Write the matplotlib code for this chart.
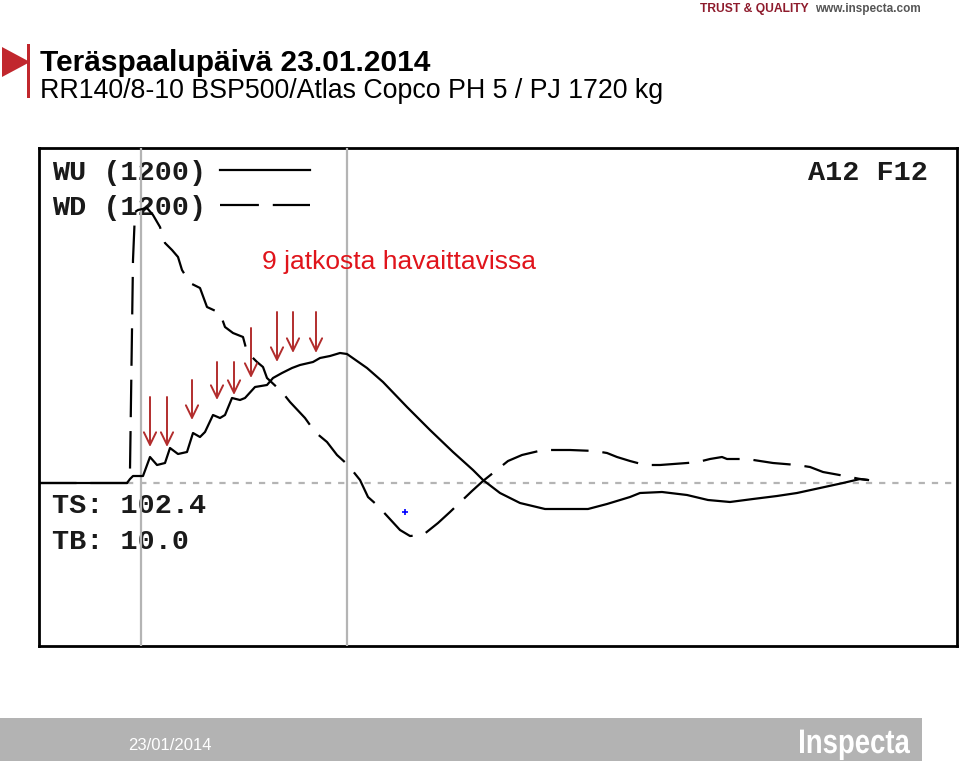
import matplotlib
matplotlib.use("Agg")
import matplotlib.pyplot as plt
from matplotlib.patches import Polygon, Rectangle, PathPatch
from matplotlib.textpath import TextPath
from matplotlib.font_manager import FontProperties
from matplotlib.transforms import Affine2D

plt.rcParams['lines.scale_dashes'] = False

# WU (solid) trace: sample index, amplitude
wu_t = [0, 88, 91, 94, 104, 111, 118, 126, 131, 139, 148, 154, 161, 166, 174, 181,
        186, 193, 201, 206, 216, 228, 234, 243, 253, 261, 274, 281, 291, 301, 308,
        328, 344, 368, 391, 414, 434, 444, 461, 481, 506, 549, 568, 591, 601, 623,
        648, 669, 691, 714, 738, 758, 781, 804, 821, 829]
wu_a = [0, 0, 4, 7, 7, 26, 18, 20, 35, 29, 31, 50, 46, 51, 68, 65,
        68, 85, 83, 85, 96, 98, 105, 110, 115, 118, 121, 125, 127, 130, 129,
        115, 101, 76, 53, 31, 13, 3, -10, -20, -26, -26, -21, -14, -10, -9,
        -12, -17, -19, -16, -13, -10, -5, 0, 4, 3]

# WD (dashed) trace
wd_t = [0, 88, 91, 94, 96, 99, 108, 114, 121, 126, 133, 139, 143, 151, 161, 168,
        181, 186, 194, 204, 208, 218, 224, 228, 243, 251, 266, 276, 288, 298, 309,
        321, 329, 338, 361, 371, 384, 399, 411, 433, 444, 469, 483, 504, 531, 556,
        568, 578, 591, 606, 621, 648, 659, 671, 683, 688, 708, 721, 734, 758, 771,
        784, 806, 821, 829]
wd_a = [0, 0, 13, 223, 271, 273, 275, 268, 256, 240, 233, 226, 213, 200, 195, 176,
        170, 156, 150, 146, 131, 121, 116, 105, 91, 81, 65, 51, 41, 28, 18,
        3, -14, -22, -47, -53, -52, -40, -29, -8, 2, 22, 28, 33, 33, 32,
        30, 26, 22, 18, 18, 20, 21, 24, 26, 24, 24, 22, 20, 18, 16,
        11, 7, 4, 3]

# the 9 marked splices
arrow_t = [111, 128, 153, 178, 195, 212, 238, 254, 277]
arrow_top = [86, 86, 103, 121, 121, 155, 171, 171, 171]
arrow_tip = [36, 36, 63, 83, 88, 105, 121, 130, 130]

marker_t, marker_a = 366, -29
cursor_t = [102, 308]

W, H = 959, 764
fig = plt.figure(figsize=(W / 100, H / 100), dpi=100)

# overlay for the slide decorations, in pixel units
bg = fig.add_axes([0, 0, 1, 1])
bg.set_xlim(0, W)
bg.set_ylim(H, 0)
bg.axis('off')

red = '#c1272d'
bg.add_patch(Polygon([[2, 47], [2, 77], [30, 62]], closed=True, color=red, lw=0))
bg.add_patch(Rectangle((27, 44), 2.5, 54, color=red, lw=0))
bg.text(40, 71, 'Teräspaalupäivä 23.01.2014', fontsize=21.5, fontweight='bold',
        family='Liberation Sans', va='baseline')
bg.text(40, 98, 'RR140/8-10 BSP500/Atlas Copco PH 5 / PJ 1720 kg', fontsize=19.3,
        family='Liberation Sans', va='baseline')
bg.text(700, 12, 'TRUST & QUALITY', fontsize=8.7, fontweight='bold', color='#8e1b2c',
        family='Liberation Sans', va='baseline')
bg.text(815, 12, 'www.inspecta.com', fontsize=8.5, fontweight='bold', color='#555555',
        family='Liberation Sans', va='baseline')

bg.add_patch(Rectangle((0, 718), 922, 43, color='#b3b3b3', lw=0))
bg.text(128, 750, '23/01/2014', fontsize=12, color='white',
        family='Liberation Sans', va='baseline')

# condensed logo text
tp = TextPath((0, 0), 'Inspecta', size=34,
              prop=FontProperties(family='Liberation Sans', weight='bold'))
ext = tp.get_extents()
logo_tr = Affine2D().translate(-ext.x0, 0).scale(110 / ext.width, -1).translate(800, 753)
bg.add_patch(PathPatch(tp, transform=logo_tr + bg.transData, color='white', lw=0))

# the PDA chart
ax = fig.add_axes([39 / W, (H - 646) / H, (957 - 39) / W, (646 - 148) / H])
ax.set_xlim(0, 918)
ax.set_ylim(-163, 335)
ax.set_xticks([])
ax.set_yticks([])
for s in ax.spines.values():
    s.set_linewidth(2)
    s.set_color('black')

for c in cursor_t:
    ax.axvline(c, color='#b4b4b4', lw=1.6, zorder=3)
ax.plot([88, 918], [0, 0], color='#b4b4b4', lw=1.6, dashes=(4.5, 5), zorder=2)

ax.plot(wu_t, wu_a, color='black', lw=1.6, zorder=4)
ax.plot(wd_t, wd_a, color='black', lw=1.6, dashes=(27, 10), zorder=4)
ax.plot(marker_t, marker_a, marker='+', color='blue', ms=4, mew=1.2, zorder=4)

for t, a0, a1 in zip(arrow_t, arrow_top, arrow_tip):
    ax.annotate('', xy=(t, a1), xytext=(t, a0),
                arrowprops=dict(arrowstyle='->,head_length=0.45,head_width=0.22',
                                color='#b22d2d', lw=1.4, shrinkA=0, shrinkB=0,
                                mutation_scale=20), zorder=5)

mono = dict(family=['Liberation Mono', 'DejaVu Sans Mono'], fontweight='bold',
            fontsize=20.5, color='#1a1a1a', va='baseline', zorder=2)
ax.text(13, 303, 'WU (1200)', **mono)
ax.text(13, 268, 'WD (1200)', **mono)
ax.text(769, 303, 'A12 F12', **mono)
ax.text(13, -30, 'TS: 102.4', **mono)
ax.text(13, -66, 'TB: 10.0', **mono)
ax.plot([181, 271], [313, 313], color='black', lw=1.6)
ax.plot([181, 271], [278, 278], color='black', lw=1.6, dashes=(28, 10))

ax.text(223, 214, '9 jatkosta havaittavissa', fontsize=19, color='#e0141b',
        family='Liberation Sans', va='baseline', zorder=6)

fig.savefig('out.png', dpi=100)
